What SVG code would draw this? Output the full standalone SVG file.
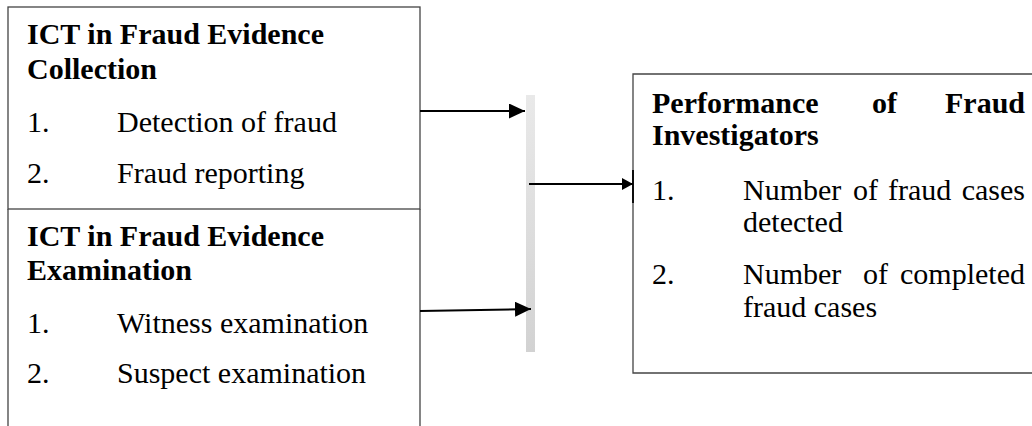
<svg xmlns="http://www.w3.org/2000/svg" width="1032" height="426" viewBox="0 0 1032 426">
<defs>
<style>
.t{font-family:"Liberation Serif","Times New Roman",serif;font-size:30px;fill:#000}
.b{font-weight:bold}
.box{fill:none;stroke:#444;stroke-width:1.3}
.con{stroke:#000;stroke-width:2;fill:none}
</style>
<marker id="ah" markerUnits="userSpaceOnUse" markerWidth="17" markerHeight="16" refX="16" refY="7.5" orient="auto">
<path d="M0,0 L16,7.5 L0,15 Z" fill="#000"/>
</marker>
<marker id="ahs" markerUnits="userSpaceOnUse" markerWidth="12" markerHeight="13" refX="11" refY="6" orient="auto">
<path d="M0,0 L11,6 L0,12 Z" fill="#000"/>
</marker>
<linearGradient id="bar" x1="0" y1="0" x2="0" y2="1">
<stop offset="0" stop-color="#e9e9e9"/>
<stop offset="1" stop-color="#d2d2d2"/>
</linearGradient>
</defs>
<rect width="1032" height="426" fill="#fff"/>
<g id="node-collection">
<rect class="box" x="8" y="7" width="412" height="202"/>
<text class="t b" x="27" y="44">ICT in Fraud Evidence</text>
<text class="t b" x="27" y="79">Collection</text>
<text class="t" x="27" y="132">1.</text>
<text class="t" x="117" y="132">Detection of fraud</text>
<text class="t" x="27" y="183">2.</text>
<text class="t" x="117" y="183">Fraud reporting</text>
</g>
<g id="node-examination">
<path class="box" d="M8,209 L8,430 M420,209 L420,430"/>
<text class="t b" x="27" y="246">ICT in Fraud Evidence</text>
<text class="t b" x="27" y="280">Examination</text>
<text class="t" x="27" y="333">1.</text>
<text class="t" x="117" y="333">Witness examination</text>
<text class="t" x="27" y="383">2.</text>
<text class="t" x="117" y="383">Suspect examination</text>
</g>
<g id="node-bar">
<rect x="526" y="95" width="9" height="257" fill="url(#bar)"/>
</g>
<g id="node-performance">
<path class="box" d="M1040,74 L633,74 L633,373 L1040,373"/>
<text class="t b" x="652" y="113">Performance</text>
<text class="t b" x="872" y="113">of</text>
<text class="t b" x="1025" y="113" text-anchor="end">Fraud</text>
<text class="t b" x="652" y="145">Investigators</text>
<text class="t" x="652" y="200">1.</text>
<text class="t" x="743" y="200">Number</text>
<text class="t" x="853" y="200">of</text>
<text class="t" x="888" y="200">fraud</text>
<text class="t" x="1025" y="200" text-anchor="end">cases</text>
<text class="t" x="743" y="232">detected</text>
<text class="t" x="652" y="284">2.</text>
<text class="t" x="743" y="284">Number</text>
<text class="t" x="863" y="284">of</text>
<text class="t" x="1025" y="284" text-anchor="end">completed</text>
<text class="t" x="743" y="317">fraud cases</text>
</g>
<g id="connectors">
<line class="con" x1="420" y1="111" x2="525" y2="111" marker-end="url(#ah)"/>
<line class="con" x1="420" y1="311" x2="531" y2="309" marker-end="url(#ah)"/>
<line class="con" x1="529" y1="184" x2="633" y2="184" stroke-width="1.5" marker-end="url(#ahs)"/>
<line x1="633" y1="170" x2="633" y2="203" stroke="#000" stroke-width="1.8"/>
</g>
</svg>
